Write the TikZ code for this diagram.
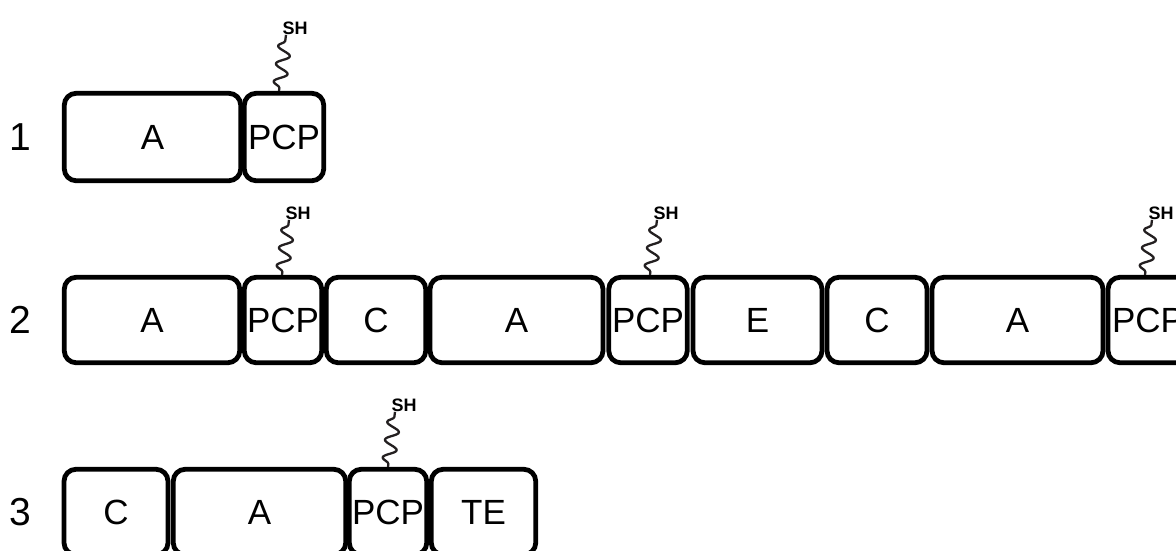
\documentclass[tikz,border=0pt]{standalone}
\usepackage{fontspec}
\setmainfont{Liberation Sans}
\usetikzlibrary{decorations.pathmorphing}
\definecolor{sqc}{HTML}{231F20}
\begin{document}
\begin{tikzpicture}[x=1pt,y=-1pt,
  blk/.style={draw=black, line width=4.8pt, rounded corners=12pt, inner sep=0pt,
    font=\fontsize{35}{40}\selectfont, fill=white},
  rowa/.style={minimum height=87.5pt},
  rowb/.style={minimum height=85.5pt},
  num/.style={font=\fontsize{39}{44}\selectfont, inner sep=0pt},
  shl/.style={font=\fontsize{18}{20}\selectfont\bfseries, inner sep=0pt},
  squig/.style={draw=sqc, line width=2.3pt, line join=round, decorate,
    decoration={snake, amplitude=6.5pt, segment length=18pt, pre length=3pt, post length=2pt}}]
\useasboundingbox (0,0) rectangle (1176,550);
\clip (0,0) rectangle (1176,550);
\fill[white] (0,0) rectangle (1176,550);

% row labels
\node[num] (n1) at (20,137) {1};
\node[num] (n2) at (20,320) {2};
\node[num] (n3) at (20,512) {3};

% row 1
\node[blk, rowa, minimum width=176.5pt] (r1a) at (152.5,137) {A};
\node[blk, rowa, minimum width=79.5pt] (r1p) at (284,137) {PCP};

% row 2
\node[blk, rowb, minimum width=175.5pt] (r2a1) at (152,320) {A};
\node[blk, rowb, minimum width=77.5pt] (r2p1) at (283,320) {PCP};
\node[blk, rowb, minimum width=99.5pt] (r2c1) at (376,320) {C};
\node[blk, rowb, minimum width=173pt] (r2a2) at (516.5,320) {A};
\node[blk, rowb, minimum width=78.5pt] (r2p2) at (648,320) {PCP};
\node[blk, rowb, minimum width=129pt] (r2e) at (757.5,320) {E};
\node[blk, rowb, minimum width=100pt] (r2c2) at (877,320) {C};
\node[blk, rowb, minimum width=171pt] (r2a3) at (1017.5,320) {A};
\node[blk, rowb, minimum width=80pt] (r2p3) at (1148,320) {PCP};

% row 3
\node[blk, rowb, minimum width=104pt] (r3c) at (116,512) {C};
\node[blk, rowb, minimum width=172.5pt] (r3a) at (259.5,512) {A};
\node[blk, rowb, minimum width=77.5pt] (r3p) at (388,512) {PCP};
\node[blk, rowb, minimum width=104.5pt] (r3t) at (483.5,512) {TE};

% squiggles with SH
\path (r1p.north) ++(-5,0) coordinate (b1) ++(7,-56) coordinate (t1);
\path (r2p1.north) ++(-1,0) coordinate (b2) ++(7,-55) coordinate (t2);
\path (r2p2.north) ++(2,0) coordinate (b3) ++(7,-55) coordinate (t3);
\path (r2p3.north) ++(-3,0) coordinate (b4) ++(7,-55) coordinate (t4);
\path (r3p.north) ++(0,0) coordinate (b5) ++(7,-55) coordinate (t5);

\foreach \i in {1,...,5}{
  \node[shl] (sh\i) at ([shift={(9,-7)}]t\i) {SH};
  \draw[squig] (b\i) -- (t\i);
}
\end{tikzpicture}
\end{document}
